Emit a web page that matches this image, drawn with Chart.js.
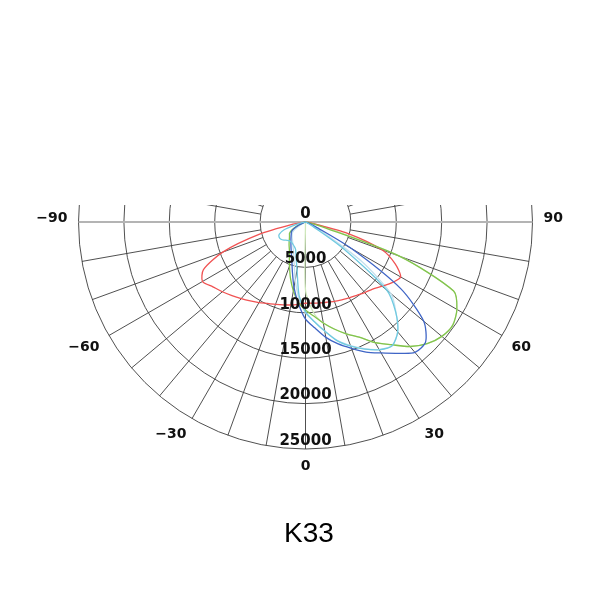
<!DOCTYPE html>
<html>
<head>
<meta charset="utf-8">
<title>K33</title>
<script src="https://cdn.jsdelivr.net/npm/chart.js@4.4.1/dist/chart.umd.min.js"></script>
<style>
  html, body { margin: 0; padding: 0; background: #fff; }
  #wrap { width: 600px; height: 600px; }
</style>
</head>
<body>
<div id="wrap"><canvas id="polar"></canvas></div>
<script>
// ----- data: luminous intensity (cd) per gamma angle -----
const angles = [-90, -85, -80, -75, -70, -65, -60, -55, -50, -45, -40, -35, -30, -25, -20, -15, -10, -5, 0,
  5, 10, 15, 20, 25, 30, 35, 40, 45, 50, 55, 60, 65, 70, 75, 80, 85, 90];

const redCurve = [0, 0, 1400, 5300, 9700, 12400, 13100, 12450, 11950, 11450, 11000, 10600, 10250, 9900, 9650, 9450, 9280, 9100, 8950,
  8980, 9050, 9150, 9300, 9450, 9650, 9850, 10150, 10450, 11000, 11650, 12100, 10900, 9000, 4800, 600, 0, 0];
const greenCurve = [0, 0, 0, 100, 400, 1000, 1700, 2150, 2300, 2500, 2800, 3150, 3550, 4200, 5150, 6400, 7700, 8900, 9700,
  10400, 11300, 12200, 13100, 14000, 15350, 16500, 17900, 18950, 19600, 19800, 19250, 18000, 11000, 1500, 300, 0, 0];
const blueCurve = [0, 0, 0, 0, 200, 800, 1500, 1900, 2050, 2250, 2500, 2800, 3200, 3700, 4400, 5600, 7300, 9000, 10700,
  11700, 12900, 13900, 14800, 15800, 16650, 17650, 18750, 18700, 17000, 12800, 5800, 1200, 300, 0, 0, 0, 0];
const cyanCurve = [0, 0, 300, 1100, 2500, 3200, 3350, 3300, 3100, 2850, 2700, 2700, 2800, 2950, 3200, 4000, 5370, 8100, 9900,
  11000, 12200, 13550, 14550, 15450, 16250, 16650, 15800, 14050, 11700, 5000, 800, 200, 0, 0, 0, 0, 0];
const paleBlueCurve = [0, 0, 0, 0, 0, 0, 500, 1500, 1900, 2100, 2300, 2500, 2800, 3200, 3800, 4800, 6500, 8400, 10000,
  11000, 12200, 13500, 14500, 15400, 16200, 16600, 15800, 14100, 12300, 7500, 2000, 400, 0, 0, 0, 0, 0];
const paleGreenCurve = [0, 0, 0, 0, 0, 0, 0, 0, 0, 0, 0, 0, 0, 0, 0, 0, 0, 0, 7500,
  10000, 11300, 12200, 13100, 14000, 15350, 16500, 17900, 18950, 19600, 19800, 19250, 18000, 11000, 2500, 600, 0, 0];

const ringValues = [5000, 10000, 15000, 20000, 25000];
const ringLabels = ['0', '5000', '10000', '15000', '20000', '25000'];
const angleTicks = [-90, -60, -30, 0, 30, 60, 90];
const angleLabels = ['\u221290', '\u221260', '\u221230', '0', '30', '60', '90'];
const chartTitle = 'K33';

// ----- layout of the polar frame -----
const R_OUTER = 25000;          // outer ring value
const OUTER_PX = 227;           // its radius on screen
const CENTER = { x: 305.5, y: 222 };
const AREA = { left: 18, right: 600, top: 0, bottom: 500 };
const unit = R_OUTER / OUTER_PX;
const GRID_TOP = 17 * unit;     // grid is cut a little above the 90 line
const LABEL_R = 238 * unit;

const rad = (a) => a * Math.PI / 180;
const toXY = (vals) => angles.map((a, i) => ({
  x: vals[i] * Math.sin(rad(a)),
  y: -vals[i] * Math.cos(rad(a)),
}));

// first entry ends up on top (chart.js paints datasets last-to-first)
const series = [
  { label: 'cyan', data: cyanCurve, color: '#6fcae0' },
  { label: 'blue', data: blueCurve, color: '#3f65c6' },
  { label: 'green', data: greenCurve, color: '#82c44c' },
  { label: 'red', data: redCurve, color: '#f05252' },
  { label: 'pale blue', data: paleBlueCurve, color: '#c4e0ee' },
  { label: 'pale green', data: paleGreenCurve, color: '#cfe8bb' },
];

// polar grid + labels, drawn through the x/y scales
const polarGrid = {
  id: 'polarGrid',
  beforeDatasetsDraw(chart) {
    const { ctx, chartArea, scales: { x, y } } = chart;
    const px = (r, a) => [x.getPixelForValue(r * Math.sin(rad(a))), y.getPixelForValue(-r * Math.cos(rad(a)))];
    const cx = x.getPixelForValue(0);
    const cy = y.getPixelForValue(0);

    ctx.save();
    ctx.beginPath();
    const top = y.getPixelForValue(GRID_TOP);
    ctx.rect(chartArea.left, top, chartArea.width, chartArea.bottom - top);
    ctx.clip();

    ctx.strokeStyle = '#3c3c3c';
    ctx.lineWidth = 0.9;
    ringValues.forEach((v) => {
      const r = x.getPixelForValue(v) - cx;
      ctx.beginPath();
      ctx.arc(cx, cy, r, 0, Math.PI * 2);
      ctx.stroke();
    });

    for (let a = -180; a < 180; a += 10) {
      if (a === 90 || a === -90) continue;
      const from = a === 0 ? 0 : ringValues[0];
      const p1 = px(from, a);
      const p2 = px(R_OUTER, a);
      ctx.beginPath();
      ctx.moveTo(p1[0], p1[1]);
      ctx.lineTo(p2[0], p2[1]);
      ctx.stroke();
    }
    ctx.restore();

    // 90 / -90 axis
    ctx.save();
    ctx.strokeStyle = '#b4b4b4';
    ctx.lineWidth = 2;
    ctx.beginPath();
    ctx.moveTo(x.getPixelForValue(-R_OUTER), cy);
    ctx.lineTo(x.getPixelForValue(R_OUTER), cy);
    ctx.stroke();
    ctx.restore();
  },
  afterDatasetsDraw(chart) {
    const { ctx, scales: { x, y } } = chart;
    const cx = x.getPixelForValue(0);
    ctx.save();
    ctx.fillStyle = '#111';
    ctx.textAlign = 'center';
    ctx.textBaseline = 'middle';
    ctx.font = 'bold 15px "DejaVu Sans"';
    ringLabels.forEach((t, i) => {
      const v = i * 5000;
      ctx.fillText(t, cx, y.getPixelForValue(-v) - 8);
    });

    // angle labels: box corner sits on the label circle, pointing away from the centre
    const size = 14;
    ctx.font = 'bold ' + size + 'px "DejaVu Sans"';
    ctx.textBaseline = 'alphabetic';
    angleTicks.forEach((a, i) => {
      const lx = x.getPixelForValue(LABEL_R * Math.sin(rad(a)));
      const ly = y.getPixelForValue(-LABEL_R * Math.cos(rad(a)));
      ctx.textAlign = a < 0 ? 'right' : a > 0 ? 'left' : 'center';
      const base = Math.abs(a) === 90 ? ly - 5 + size * 0.36 : ly + size * 0.73;
      ctx.fillText(angleLabels[i], lx, base);
    });
    ctx.restore();
  },
};

new Chart(document.getElementById('polar'), {
  type: 'scatter',
  data: {
    datasets: series.map((s) => ({
      label: s.label,
      data: toXY(s.data),
      showLine: true,
      borderColor: s.color,
      backgroundColor: s.color,
      borderWidth: 1.3,
      pointRadius: 0,
      tension: 0.25,
      fill: false,
    })),
  },
  options: {
    responsive: true,
    maintainAspectRatio: false,
    animation: false,
    events: [],
    layout: { padding: { left: AREA.left, right: 600 - AREA.right, top: AREA.top, bottom: 0 } },
    scales: {
      x: {
        type: 'linear',
        display: false,
        min: (AREA.left - CENTER.x) * unit,
        max: (AREA.right - CENTER.x) * unit,
      },
      y: {
        type: 'linear',
        display: false,
        min: -(AREA.bottom - CENTER.y) * unit,
        max: (CENTER.y - AREA.top) * unit,
      },
    },
    plugins: {
      legend: { display: false },
      tooltip: { enabled: false },
      title: {
        display: true,
        text: chartTitle,
        position: 'bottom',
        color: '#000',
        font: { family: '"Liberation Sans", Arial, sans-serif', size: 28, weight: 'normal' },
        padding: { top: 17.7, bottom: 48.7 },
      },
    },
  },
  plugins: [polarGrid],
});
</script>
</body>
</html>
